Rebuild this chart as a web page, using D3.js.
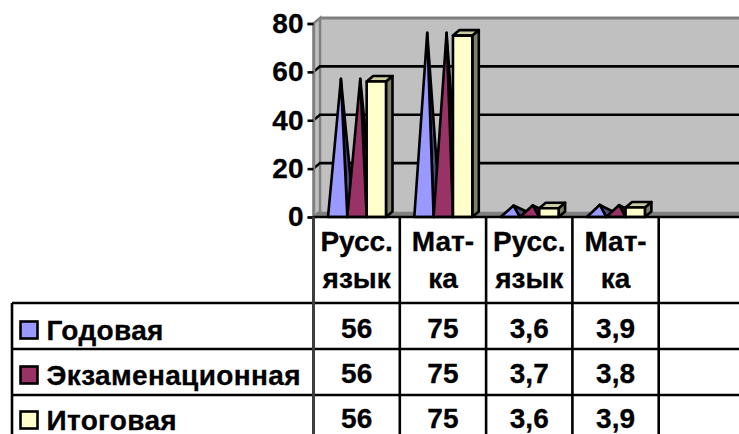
<!DOCTYPE html>
<html>
<head>
<meta charset="utf-8">
<script src="https://cdn.jsdelivr.net/npm/d3@7"></script>
<style>
  html, body { margin: 0; padding: 0; background: #fff; overflow: hidden; }
  text { font-family: "Liberation Sans", Arial, sans-serif; font-weight: bold; fill: #000; stroke: #000; stroke-width: 0.3px; }
</style>
</head>
<body>
<div id="chart"></div>
<script>
// data
const catLine1 = ['Русс.', 'Мат-', 'Русс.', 'Мат-', '']
const catLine2 = ['язык', 'ка', 'язык', 'ка', '']
const seriesNames = ['Годовая', 'Экзаменационная', 'Итоговая']
const godovaya = [56, 75, 3.6, 3.9, null]
const exam = [56, 75, 3.7, 3.8, null]
const itog = [56, 75, 3.6, 3.9, null]
const allSeries = [godovaya, exam, itog]
const yTicks = [0, 20, 40, 60, 80]
const seriesColors = ['#9999FF', '#993366', '#FFFFCC']
const sideColors = ['#4D4D80', '#4D1A33', '#808066']
const topColor = '#CCCCA3'

const width = 739, height = 434
const plot = {left: 313.5, right: 745, top: 23.5, bottom: 217}
const depth = {x: 6.5, y: 5.5}
const table = {left: 12, rows: [303, 349, 395, 441]}
const fontSize = '28px'
const lineW = 2.6

const svg = d3.select('#chart').append('svg')
  .attr('width', width)
  .attr('height', height)
  .style('display', 'block')

const x = d3.scaleBand()
  .domain(d3.range(catLine1.length))
  .range([plot.left, plot.right])

const xInner = d3.scaleBand()
  .domain(d3.range(allSeries.length))
  .range([14.5, 72.5])

const y = d3.scaleLinear()
  .domain([0, 80])
  .range([plot.bottom, plot.top])

// walls
const poly = pts => pts.map(p => p.join(',')).join(' ')

svg.append('rect')
  .attr('x', plot.left + depth.x)
  .attr('y', plot.top - depth.y)
  .attr('width', width)
  .attr('height', plot.bottom - plot.top)
  .attr('fill', '#C0C0C0')

svg.append('polygon')
  .attr('points', poly([
    [plot.left, plot.top], [plot.left + depth.x, plot.top - depth.y],
    [plot.left + depth.x, plot.bottom - depth.y], [plot.left, plot.bottom]]))
  .attr('fill', '#C0C0C0')
  .attr('stroke', '#808080')
  .attr('stroke-width', 2.5)

svg.append('polygon')
  .attr('points', poly([
    [plot.left, plot.bottom], [plot.left + depth.x, plot.bottom - depth.y],
    [width + 5, plot.bottom - depth.y], [width + 5, plot.bottom]]))
  .attr('fill', '#808080')

svg.append('line')
  .attr('x1', plot.left + depth.x).attr('x2', width)
  .attr('y1', plot.top - depth.y).attr('y2', plot.top - depth.y)
  .attr('stroke', '#808080')
  .attr('stroke-width', 3)

// gridlines
yTicks.filter(t => t > 0 && t < 80).forEach(t => {
  svg.append('polyline')
    .attr('points', poly([
      [plot.left, y(t)], [plot.left + depth.x, y(t) - depth.y], [width, y(t) - depth.y]]))
    .attr('fill', 'none')
    .attr('stroke', '#000')
    .attr('stroke-width', lineW)
})

// pyramids and bars
allSeries.forEach((values, s) => {
  values.forEach((v, i) => {
    if (v === null) return
    const x0 = x(i) + xInner(s)
    const x1 = x0 + xInner.bandwidth()
    const g = svg.append('g')
      .attr('stroke', '#000')
      .attr('stroke-width', lineW)
      .attr('stroke-linejoin', 'round')
    if (s < 2) {
      // pyramid series
      const apex = [(x0 + x1 + depth.x) / 2, y(v) - depth.y / 2]
      g.append('polygon')
        .attr('points', poly([[x1, y(0)], [x1 + depth.x, y(0) - depth.y], apex]))
        .attr('fill', sideColors[s])
      g.append('polygon')
        .attr('points', poly([[x0, y(0)], [x1, y(0)], apex]))
        .attr('fill', seriesColors[s])
    } else {
      g.append('polygon')
        .attr('points', poly([
          [x1, y(0)], [x1 + depth.x, y(0) - depth.y],
          [x1 + depth.x, y(v) - depth.y], [x1, y(v)]]))
        .attr('fill', sideColors[s])
      g.append('polygon')
        .attr('points', poly([
          [x0, y(v)], [x0 + depth.x, y(v) - depth.y],
          [x1 + depth.x, y(v) - depth.y], [x1, y(v)]]))
        .attr('fill', topColor)
      g.append('rect')
        .attr('x', x0)
        .attr('y', y(v))
        .attr('width', x1 - x0)
        .attr('height', y(0) - y(v))
        .attr('fill', seriesColors[s])
    }
  })
})

// y axis
const axis = svg.append('g')
  .attr('transform', `translate(${plot.left},0)`)
  .call(d3.axisLeft(y).tickValues(yTicks).tickSize(6).tickPadding(4))

axis.select('.domain')
  .attr('stroke', '#808080')
  .attr('stroke-width', 2.5)
axis.selectAll('.tick line').attr('stroke', '#000').attr('stroke-width', lineW)
axis.selectAll('text')
  .style('font-size', fontSize)
  .style('font-family', '"Liberation Sans", Arial, sans-serif')
  .style('font-weight', 'bold')
  .attr('fill', '#000')

// data table lines
const tableLine = (x1, y1, x2, y2) => svg.append('line')
  .attr('x1', x1).attr('y1', y1).attr('x2', x2).attr('y2', y2)
  .attr('stroke', '#000')
  .attr('stroke-width', lineW)

tableLine(plot.left, plot.bottom, width, plot.bottom)
table.rows.slice(0, 3).forEach(r => tableLine(table.left, r, width, r))
tableLine(table.left, table.rows[0], table.left, height)
d3.range(catLine1.length).forEach(i => {
  tableLine(x(i), plot.bottom, x(i), height)
})
tableLine(plot.left, plot.bottom, plot.left, height).attr('stroke', '#404040')

// category labels
catLine1.forEach((c, i) => {
  const cx = x(i) + x.bandwidth() / 2
  svg.append('text').attr('x', cx).attr('y', 251)
    .attr('text-anchor', 'middle').style('font-size', fontSize).text(c)
  svg.append('text').attr('x', cx).attr('y', 288)
    .attr('text-anchor', 'middle').style('font-size', fontSize).text(catLine2[i])
})

// legend + values
const valueBase = [338, 383, 428]
const legendBase = [340, 385, 430]
seriesNames.forEach((name, s) => {
  svg.append('rect')
    .attr('x', 20.5)
    .attr('y', legendBase[s] - 18.5)
    .attr('width', 17)
    .attr('height', 17)
    .attr('fill', seriesColors[s])
    .attr('stroke', '#000')
    .attr('stroke-width', lineW)
  svg.append('text')
    .attr('x', 46.5)
    .attr('y', legendBase[s])
    .style('font-size', fontSize)
    .style('letter-spacing', '0.35px')
    .text(name)
  allSeries[s].forEach((v, i) => {
    if (v === null) return
    svg.append('text')
      .attr('x', x(i) + x.bandwidth() / 2)
      .attr('y', valueBase[s])
      .attr('text-anchor', 'middle')
      .style('font-size', fontSize)
      .text(String(v).replace('.', ','))
  })
})
</script>
</body>
</html>
